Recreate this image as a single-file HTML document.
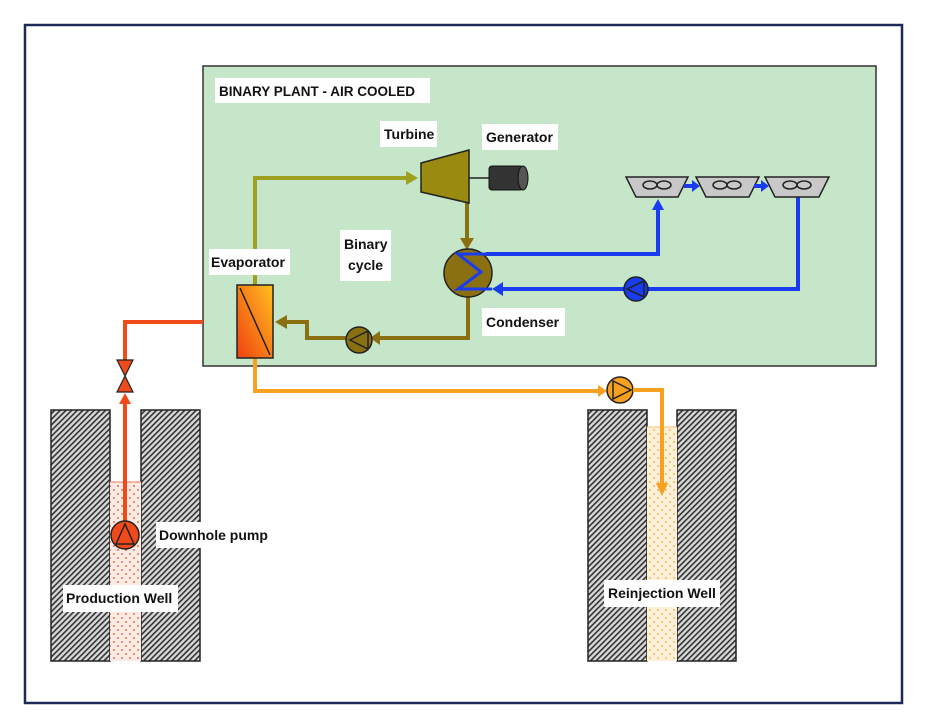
<!DOCTYPE html>
<html><head><meta charset="utf-8"><style>
html,body{margin:0;padding:0;background:#fff;}
svg{display:block;font-family:"Liberation Sans",sans-serif;font-weight:bold;}
</style></head><body>
<svg width="930" height="727" viewBox="0 0 930 727">
<defs>
<pattern id="h" width="4" height="4" patternUnits="userSpaceOnUse" patternTransform="rotate(45)">
<rect width="4" height="4" fill="#d8d8d8"/><rect width="1.6" height="4" fill="#333"/></pattern>
<pattern id="dr" width="8" height="8" patternUnits="userSpaceOnUse">
<rect width="8" height="8" fill="#fbe9e4"/><circle cx="2" cy="2" r="1" fill="#e9735a"/><circle cx="6" cy="6" r="1" fill="#e9735a"/></pattern>
<pattern id="dy" width="8" height="8" patternUnits="userSpaceOnUse">
<rect width="8" height="8" fill="#fdf0d8"/><circle cx="2" cy="2" r="1" fill="#f0b860"/><circle cx="6" cy="6" r="1" fill="#f0b860"/></pattern>
<linearGradient id="ev" x1="0" y1="1" x2="1" y2="0"><stop offset="0" stop-color="#f04010"/><stop offset="1" stop-color="#ffc020"/></linearGradient>
</defs>
<rect x="25" y="25" width="877" height="678" fill="#fff" stroke="#1c2a55" stroke-width="2.5"/>
<!-- green plant -->
<rect x="203" y="66" width="673" height="300" fill="#c6e6ca" stroke="#333" stroke-width="1.5"/>
<!-- wells -->
<rect x="51" y="410" width="59" height="251" fill="url(#h)" stroke="#222" stroke-width="1.5"/>
<rect x="141" y="410" width="59" height="251" fill="url(#h)" stroke="#222" stroke-width="1.5"/>
<rect x="110" y="482" width="31" height="179" fill="url(#dr)"/>
<line x1="110" y1="482" x2="141" y2="482" stroke="#f08060" stroke-width="1"/>
<rect x="588" y="410" width="59" height="251" fill="url(#h)" stroke="#222" stroke-width="1.5"/>
<rect x="677" y="410" width="59" height="251" fill="url(#h)" stroke="#222" stroke-width="1.5"/>
<rect x="647" y="427" width="30" height="234" fill="url(#dy)"/>
<line x1="647" y1="427" x2="677" y2="427" stroke="#f8c070" stroke-width="1"/>
<!-- red line -->
<polyline points="203,322 125,322 125,360" fill="none" stroke="#f04a1a" stroke-width="4"/>
<polygon points="117,360 133,360 125,376" fill="#f04a1a" stroke="#222" stroke-width="1.2"/>
<polygon points="117,392 133,392 125,376" fill="#f04a1a" stroke="#222" stroke-width="1.2"/>
<line x1="125" y1="402" x2="125" y2="522" stroke="#f04a1a" stroke-width="4"/>
<polygon points="119,404 131,404 125,393" fill="#f04a1a"/>
<circle cx="125" cy="535" r="14" fill="#f04a1a" stroke="#222" stroke-width="1.5"/>
<polygon points="125,524 116,544 134,544" fill="none" stroke="#222" stroke-width="1.5"/>
<!-- orange line -->
<polyline points="255,358 255,391 602,391" fill="none" stroke="#f8a020" stroke-width="4"/>
<polygon points="598,385 598,397 607,391" fill="#f8a020"/>
<circle cx="620" cy="390" r="13" fill="#f8a020" stroke="#222" stroke-width="1.5"/>
<polygon points="613,381 613,399 631,390" fill="none" stroke="#222" stroke-width="1.5"/>
<polyline points="633,390 662,390 662,485" fill="none" stroke="#f8a020" stroke-width="4"/>
<polygon points="656,483 668,483 662,496" fill="#f8a020"/>
<!-- olive lines -->
<polyline points="255,285 255,178 408,178" fill="none" stroke="#a0a020" stroke-width="4"/>
<polygon points="406,171 406,185 418,178" fill="#a0a020"/>
<line x1="467" y1="203" x2="467" y2="240" stroke="#8a7010" stroke-width="4"/>
<polygon points="460,238 474,238 467,250" fill="#8a7010"/>
<polyline points="468,297 468,338 378,338" fill="none" stroke="#8a7010" stroke-width="4"/>
<polygon points="380,331 380,345 370,338" fill="#8a7010"/>
<polyline points="346,338 307,338 307,322 285,322" fill="none" stroke="#8a7010" stroke-width="4"/>
<polygon points="287,315 287,329 275,322" fill="#8a7010"/>
<circle cx="359" cy="340" r="13" fill="#8a7010" stroke="#222" stroke-width="1.5"/>
<polygon points="350,340 368,331 368,349" fill="none" stroke="#222" stroke-width="1.5"/>
<!-- turbine & generator -->
<polygon points="421,163 469,150 469,203 421,192" fill="#9a8a10" stroke="#222" stroke-width="1.5"/>
<line x1="469" y1="178" x2="490" y2="178" stroke="#222" stroke-width="1.5"/>
<rect x="489" y="166" width="34" height="24" rx="3" fill="#333" stroke="#111"/>
<ellipse cx="523" cy="178" rx="5" ry="12" fill="#555" stroke="#111"/>
<!-- evaporator -->
<rect x="237" y="285" width="36" height="73" fill="url(#ev)" stroke="#222" stroke-width="1.5"/>
<line x1="240" y1="288" x2="270" y2="355" stroke="#222" stroke-width="1.5"/>
<!-- condenser -->
<circle cx="468" cy="273" r="24" fill="#8a7010" stroke="#222" stroke-width="1.5"/>
<!-- blue -->
<polyline points="486,254 658,254 658,208" fill="none" stroke="#1a3cf0" stroke-width="4"/>
<polygon points="652,210 664,210 658,199" fill="#1a3cf0"/>
<polyline points="798,197 798,289 502,289" fill="none" stroke="#1a3cf0" stroke-width="4"/>
<polygon points="503,282 503,296 492,289" fill="#1a3cf0"/>
<polyline points="492,254 458,254 481,272 458,289 492,289" fill="none" stroke="#1a3cf0" stroke-width="3"/>
<circle cx="636" cy="289" r="12" fill="#1a3cf0" stroke="#222" stroke-width="1.5"/>
<polygon points="627,289 644,281 644,297" fill="none" stroke="#222" stroke-width="1.5"/>
<!-- fans -->
<g stroke="#222" stroke-width="1.5">
<polygon points="626,177 688,177 678,197 636,197" fill="#c8c8c8"/>
<polygon points="696,177 759,177 749,197 706,197" fill="#c8c8c8"/>
<polygon points="765,177 829,177 819,197 775,197" fill="#c8c8c8"/>
<g fill="none"><ellipse cx="650" cy="185" rx="7" ry="4"/><ellipse cx="664" cy="185" rx="7" ry="4"/>
<ellipse cx="720" cy="185" rx="7" ry="4"/><ellipse cx="734" cy="185" rx="7" ry="4"/>
<ellipse cx="790" cy="185" rx="7" ry="4"/><ellipse cx="804" cy="185" rx="7" ry="4"/></g>
</g>
<line x1="684" y1="186" x2="694" y2="186" stroke="#1a3cf0" stroke-width="4"/>
<polygon points="692,180 692,192 700,186" fill="#1a3cf0"/>
<line x1="754" y1="186" x2="763" y2="186" stroke="#1a3cf0" stroke-width="4"/>
<polygon points="761,180 761,192 769,186" fill="#1a3cf0"/>
<!-- labels -->
<g font-size="14" fill="#111">
<rect x="215" y="78" width="215" height="25" fill="#fff"/><text x="219" y="96" font-size="13.5">BINARY PLANT - AIR COOLED</text>
<rect x="380" y="121" width="57" height="26" fill="#fff"/><text x="384" y="139">Turbine</text>
<rect x="482" y="124" width="76" height="26" fill="#fff"/><text x="486" y="142">Generator</text>
<rect x="340" y="230" width="51" height="51" fill="#fff"/><text x="344" y="249">Binary</text><text x="348" y="270">cycle</text>
<rect x="209" y="249" width="81" height="26" fill="#fff"/><text x="211" y="267">Evaporator</text>
<rect x="482" y="308" width="83" height="28" fill="#fff"/><text x="486" y="327">Condenser</text>
<rect x="156" y="522" width="114" height="26" fill="#fff"/><text x="159" y="540">Downhole pump</text>
<rect x="63" y="585" width="115" height="27" fill="#fff"/><text x="66" y="603">Production Well</text>
<rect x="604" y="580" width="116" height="27" fill="#fff"/><text x="608" y="598">Reinjection Well</text>
</g>
</svg>
</body></html>
